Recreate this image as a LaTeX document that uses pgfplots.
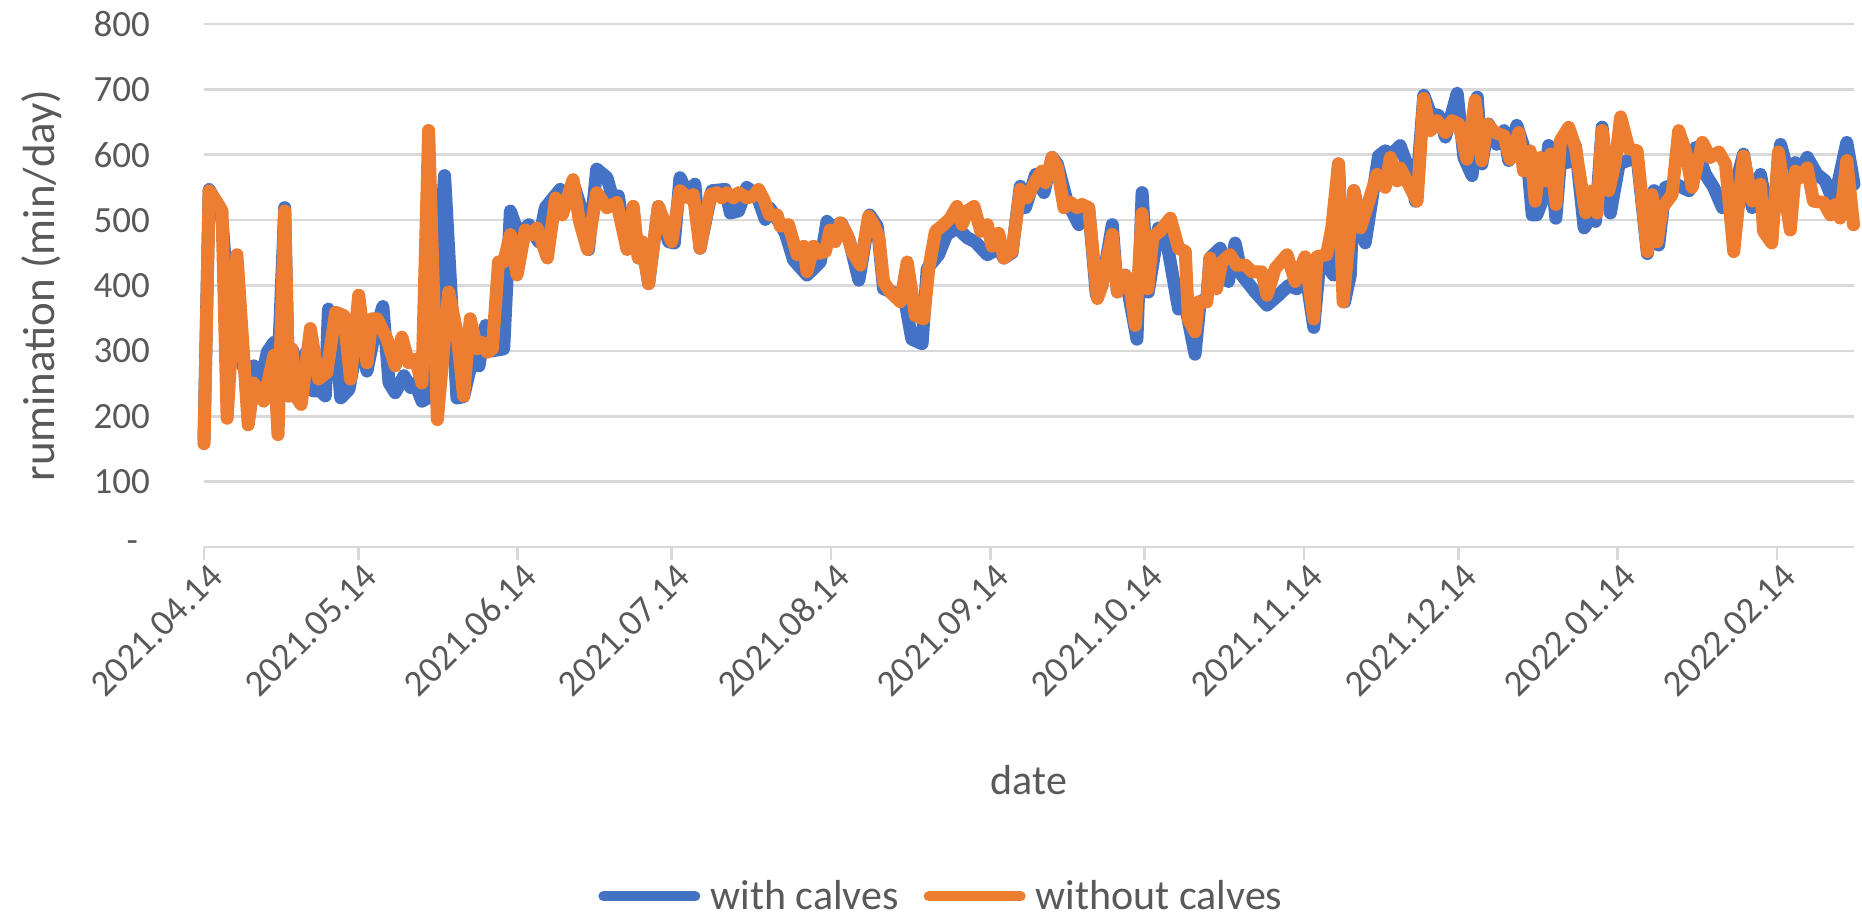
\documentclass[border=0pt]{standalone}
\usepackage{pgfplots}
\pgfplotsset{compat=1.18}
\usepackage{fontspec}
\setmainfont{Carlito}
\definecolor{cblue}{HTML}{4472C4}
\definecolor{corange}{HTML}{ED7D31}
\definecolor{tgray}{HTML}{595959}
\definecolor{ggray}{HTML}{D9D9D9}
\pgfplotsset{dline/.style={line width=6.5pt, line join=round, line cap=round}}
\begin{document}
\begin{tikzpicture}
\path[use as bounding box] (-102pt,-184.5pt) rectangle (829pt,273.5pt);
\begin{axis}[
  scale only axis, width=825pt, height=261.5pt,
  xmin=0, xmax=321, ymin=0, ymax=800,
  clip=false,
  axis x line*=bottom, axis y line*=left,
  y axis line style={draw=none},
  x axis line style={ggray, line width=1.3pt},
  ytick={0,100,...,800},
  yticklabels={-\hspace*{6pt},100,200,300,400,500,600,700,800},
  ytick style={draw=none},
  xtick={0,30,61,91,122,153,183,214,244,275,306},
  xticklabels={2021.04.14,2021.05.14,2021.06.14,2021.07.14,2021.08.14,2021.09.14,2021.10.14,2021.11.14,2021.12.14,2022.01.14,2022.02.14},
  xtick style={ggray, line width=1.3pt},
  tick align=outside, major tick length=6.5pt,
  ymajorgrids, grid style={ggray, line width=1.3pt},
  tick label style={font=\fontsize{18.5}{22}\selectfont, text=tgray},
  yticklabel style={anchor=east, xshift=-17pt},
  xticklabel style={rotate=45, anchor=east, xshift=4pt, yshift=-8pt},
  ylabel={rumination (min/day)}, xlabel={date},
  every axis y label/.style={at={(axis description cs:-0.0982,0.5)}, rotate=90, anchor=center, font=\fontsize{22.5}{26}\selectfont, text=tgray},
  every axis x label/.style={at={(axis description cs:0.5,-0.4455)}, anchor=center, font=\fontsize{21}{25}\selectfont, text=tgray},
  legend style={draw=none, fill=none, at={(axis description cs:0.4475,-0.668)}, anchor=center,
    legend columns=2, font=\fontsize{21}{25}\selectfont, text=tgray,
    /tikz/every even column/.append style={column sep=10.5pt}},
  legend image code/.code={\draw[#1, line width=5pt] (0pt,0pt) -- (46pt,0pt);},
]
\addplot[cblue, dline] coordinates {
(0,165)(1,547)(2.8,520)(3.5,500)(4.5,400)(6,303)(8,270)(9.7,277)(11,251)(12.3,298)(13.6,313)(14.5,290)(15.7,519)(16.5,231)(17.3,300)(18.5,250)(20,300)(21.2,239)(22.6,239)(23.6,231)(24.2,364)(25.5,330)(26.6,228)(28.2,241)(29.5,298)(30.5,320)(31.7,269)(33,320)(34.8,368)(36,251)(37.2,236)(38.9,262)(40.2,244)(41.1,250)(42.4,223)(44,230)(46.8,568)(49.2,228)(50.5,230)(52.2,287)(53.5,277)(54.8,339)(56,300)(58.3,303)(59.6,514)(61.2,478)(63.2,493)(65.1,467)(66.4,519)(69.3,547)(70.5,529)(72,552)(73.7,510)(74.8,455)(76.4,578)(78.4,565)(79.5,534)(80.6,537)(82.3,457)(83.5,515)(84.5,442)(85.2,467)(86.5,403)(88.4,521)(90.4,467)(91.5,465)(92.6,565)(94.2,539)(95.5,555)(96.5,457)(98.8,545)(101.4,547)(102.4,511)(104,514)(105.6,550)(107.5,539)(109.2,501)(110,519)(111,508)(113.1,480)(114.7,439)(117.3,416)(119.9,436)(121.2,498)(122.2,490)(124,495)(125.5,470)(127.4,408)(129.5,508)(131,490)(132.2,395)(134.5,388)(136.4,375)(137.7,318)(139.7,311)(140.7,426)(142.9,447)(144.5,478)(146.5,488)(148.5,473)(150,467)(152.4,447)(154.6,457)(155.6,442)(157.2,450)(158.8,552)(159.8,519)(161.8,570)(163.4,542)(165,596)(166,586)(167.9,529)(170.2,493)(172.1,519)(173.6,385)(174.7,400)(176.7,493)(177.7,390)(179.2,416)(181.5,318)(182.5,542)(183.7,390)(185.7,488)(187.3,467)(189.6,364)(190.9,370)(192.8,295)(193.8,375)(195.1,380)(195.7,442)(197.7,457)(199.3,406)(200.6,465)(201.9,416)(204.5,390)(206.8,370)(209,385)(211,400)(212.6,395)(214.2,426)(215.9,336)(217,430)(218.2,436)(219.7,416)(220.7,586)(221.9,375)(223,416)(223.7,545)(225.9,465)(228.5,598)(229.8,606)(231.1,601)(232.7,614)(234.5,575)(235.7,529)(237.3,691)(238.6,663)(240.2,660)(241.5,627)(243.8,694)(245.1,596)(246.7,568)(247.7,688)(248.6,586)(249.9,647)(251.5,616)(252.9,637)(253.8,591)(255.4,645)(257.4,596)(258.4,508)(259.3,508)(260.3,529)(261.6,614)(263,503)(264.2,622)(265.2,588)(266.8,614)(268.5,488)(269.7,503)(270.7,498)(272,642)(273.6,511)(275.3,586)(276.9,591)(278.8,596)(280.8,449)(282.1,545)(283,462)(284.3,550)(286.3,555)(287.6,550)(288.9,545)(290.2,611)(292.1,570)(293.7,550)(295.4,519)(297.3,534)(299.5,601)(301.2,519)(302.8,570)(304,519)(305,480)(306.7,616)(308.6,560)(309.6,588)(310.6,575)(311.9,596)(313.8,570)(315.4,560)(316.7,534)(317.7,550)(319.6,619)(321,555)
};
\addlegendentry{\hspace*{3pt}with calves}
\addplot[corange, dline] coordinates {
(0,158)(1,545)(2.8,524)(3.5,514)(4.5,197)(6.4,447)(8.6,187)(9.7,251)(11.6,223)(13.6,293)(14.4,172)(15.7,514)(16.5,231)(17.1,303)(17.8,231)(18.9,218)(20.7,334)(22.3,257)(23.9,267)(25.6,359)(27.2,354)(28.5,257)(30.1,385)(31.7,282)(32.7,349)(33.7,349)(35.6,318)(37.2,277)(38.5,321)(39.8,282)(41.1,287)(42.4,251)(43.7,637)(45.4,195)(47.6,390)(49.2,329)(50.5,231)(51.8,349)(53.1,303)(54.1,313)(55.1,298)(56.1,303)(57.3,436)(58.3,436)(59.6,478)(60.9,416)(62.5,485)(63.8,478)(64.8,488)(66.8,442)(68.4,534)(69.7,508)(71.8,562)(73,500)(74.6,455)(76.4,542)(78.4,519)(80.3,527)(82.3,455)(83.5,521)(84.5,442)(85.2,467)(86.5,403)(88.4,521)(91,467)(92.6,545)(94.2,534)(95.2,539)(96.5,457)(98.5,539)(99.8,542)(100.7,534)(101.7,542)(103,534)(104,542)(105.6,534)(106.9,537)(107.9,547)(109,530)(110,508)(111.5,508)(112.1,491)(113.7,493)(115.4,447)(116.7,460)(117.3,421)(118.6,460)(119.6,449)(120.9,452)(121.8,485)(122.8,467)(123.8,496)(125.1,478)(126.1,452)(127.7,431)(129.3,506)(130.3,493)(131.3,473)(132.2,406)(133.5,390)(135.5,375)(136.8,436)(138.4,354)(140,349)(141,426)(142.3,483)(143.9,493)(145.2,503)(146.5,521)(147.5,493)(148.5,514)(149.8,521)(151.1,483)(152.4,493)(153.3,460)(154.6,480)(155.6,442)(157.2,452)(158.8,547)(160.1,534)(161.8,560)(163,575)(163.7,557)(165,596)(166,580)(167.3,519)(168.6,527)(169.9,519)(170.8,524)(172.1,519)(173.8,380)(174.7,400)(176.7,478)(177.7,390)(178.9,416)(179.9,411)(181.2,339)(182.5,510)(183.6,395)(184.6,475)(186,483)(188,503)(189.6,457)(190.9,452)(191.5,349)(192.8,329)(193.5,375)(195.1,375)(195.7,442)(197,395)(198,436)(199.6,447)(200.9,431)(202.6,431)(203.9,421)(205.8,421)(206.8,385)(208.4,426)(210.7,447)(212.3,406)(214.2,444)(215.9,349)(216.5,444)(218.4,447)(219.4,488)(220.7,586)(221.6,375)(223.7,545)(225,488)(226.6,529)(228.2,570)(229.8,550)(230.8,596)(232.1,560)(232.7,580)(234,560)(236,529)(237.3,686)(238.6,637)(239.9,652)(241.5,634)(242.8,652)(244.1,647)(245.7,593)(247.3,683)(248.6,591)(249.6,647)(251.2,634)(252.9,629)(254.1,593)(255.8,634)(256.7,575)(258,606)(259,529)(260,596)(261,560)(262,601)(263,524)(263.9,622)(265.5,642)(266.8,611)(268.8,511)(270.1,545)(271,511)(272,637)(273.3,545)(274.6,591)(275.6,658)(277.2,609)(278.8,606)(280.8,452)(281.7,539)(282.7,467)(283.7,519)(285.6,539)(286.9,637)(288.2,606)(289.5,550)(291.5,619)(293,596)(294.7,604)(296,586)(297.6,452)(299.5,598)(301.2,529)(302.8,555)(303.4,483)(305,465)(306.3,604)(308.6,485)(309.6,575)(310.6,565)(311.9,580)(313.1,529)(315.1,527)(316.4,508)(317.4,524)(318.3,503)(319.6,591)(320.9,493)
};
\addlegendentry{\hspace*{3pt}without calves}
\end{axis}
\end{tikzpicture}
\end{document}
